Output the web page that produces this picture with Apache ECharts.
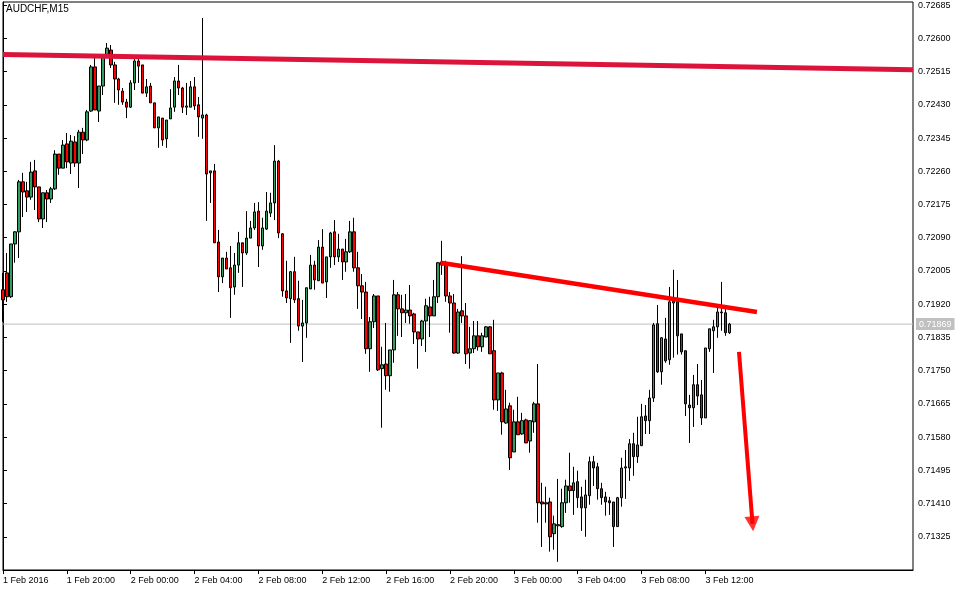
<!DOCTYPE html>
<html><head><meta charset="utf-8">
<script src="https://cdn.jsdelivr.net/npm/echarts@6/dist/echarts.min.js"></script>
<style>html,body{margin:0;padding:0;background:#fff;}#c{width:967px;height:592px;}</style>
</head><body><div id="c"></div>
<script>
const symbolTitle = 'AUDCHF,M15';
// OHLC values of the M15 bars (1 Feb 2016 16:00 onwards)
const openP = [0.71957,0.72000,0.71939,0.72074,0.72105,0.72233,0.72210,0.72194,0.72261,0.72220,
0.72138,0.72205,0.72189,0.72215,0.72304,0.72268,0.72330,0.72281,0.72335,0.72281,
0.72360,0.72340,0.72414,0.72527,0.72414,0.72478,0.72552,0.72570,0.72532,0.72496,
0.72465,0.72437,0.72424,0.72486,0.72542,0.72532,0.72460,0.72478,0.72435,0.72371,
0.72396,0.72343,0.72394,0.72424,0.72491,0.72473,0.72424,0.72424,0.72476,0.72430,
0.72396,0.72404,0.72256,0.72261,0.72079,0.71990,0.72038,0.72013,0.71964,0.72020,
0.72077,0.72051,0.72089,0.72115,0.72158,0.72069,0.72112,0.72153,0.72179,0.72286,
0.72100,0.71954,0.71934,0.72003,0.71934,0.71864,0.71872,0.71959,0.72020,0.71980,
0.72066,0.71977,0.72041,0.72105,0.72041,0.72061,0.72028,0.72054,0.72105,0.72013,
0.71967,0.71951,0.71806,0.71875,0.71941,0.71755,0.71767,0.71737,0.71803,0.71944,
0.71908,0.71898,0.71905,0.71895,0.71849,0.71831,0.71877,0.71913,0.71890,0.71939,
0.72020,0.72026,0.71941,0.71923,0.71795,0.71903,0.71890,0.71795,0.71806,0.71839,
0.71811,0.71836,0.71862,0.71801,0.71675,0.71744,0.71616,0.71660,0.71542,0.71619,
0.71588,0.71624,0.71570,0.71619,0.71665,0.71414,0.71412,0.71414,0.71333,0.71353,
0.71351,0.71412,0.71455,0.71443,0.71466,0.71427,0.71399,0.71430,0.71517,0.71504,
0.71448,0.71427,0.71417,0.71414,0.71351,0.71425,0.71501,0.71501,0.71563,0.71530,
0.71558,0.71634,0.71622,0.71680,0.71870,0.71747,0.71831,0.71778,0.71928,0.71926,
0.71844,0.71801,0.71662,0.71655,0.71714,0.71688,0.71629,0.71806,0.71852,0.71862,
0.71900,0.71898,0.71847];
const highP = [0.72000,0.72051,0.72074,0.72107,0.72238,0.72256,0.72233,0.72284,0.72289,0.72220,
0.72205,0.72212,0.72220,0.72314,0.72304,0.72340,0.72358,0.72353,0.72350,0.72366,
0.72371,0.72417,0.72532,0.72550,0.72478,0.72557,0.72588,0.72583,0.72540,0.72499,
0.72473,0.72445,0.72493,0.72547,0.72547,0.72532,0.72496,0.72486,0.72435,0.72399,
0.72396,0.72391,0.72470,0.72501,0.72532,0.72476,0.72486,0.72491,0.72501,0.72450,
0.72652,0.72407,0.72261,0.72279,0.72110,0.72038,0.72054,0.72069,0.72051,0.72105,
0.72077,0.72158,0.72133,0.72179,0.72181,0.72141,0.72207,0.72205,0.72327,0.72289,
0.72102,0.72031,0.72005,0.72041,0.71980,0.71931,0.71962,0.72046,0.72031,0.72084,
0.72112,0.72041,0.72105,0.72135,0.72100,0.72061,0.72087,0.72133,0.72141,0.72054,
0.71997,0.71977,0.71887,0.71946,0.71941,0.71811,0.71872,0.71803,0.71982,0.71951,
0.71944,0.71946,0.71969,0.71898,0.71849,0.71880,0.71934,0.71939,0.71982,0.72028,
0.72082,0.72031,0.71951,0.71946,0.71908,0.72043,0.71923,0.71862,0.71877,0.71877,
0.71847,0.71864,0.71864,0.71880,0.71744,0.71747,0.71701,0.71668,0.71650,0.71683,
0.71642,0.71627,0.71622,0.71670,0.71767,0.71463,0.71453,0.71425,0.71379,0.71473,
0.71448,0.71471,0.71540,0.71504,0.71494,0.71453,0.71471,0.71530,0.71532,0.71514,
0.71463,0.71440,0.71427,0.71414,0.71427,0.71527,0.71547,0.71575,0.71591,0.71632,
0.71665,0.71662,0.71701,0.71872,0.71918,0.71836,0.71885,0.71964,0.72008,0.71982,
0.71844,0.71801,0.71688,0.71739,0.71767,0.71726,0.71808,0.71857,0.71880,0.71918,
0.71977,0.71910,0.71872];
const lowP = [0.71875,0.71926,0.71936,0.72026,0.72038,0.72143,0.72156,0.72187,0.72161,0.72130,
0.72115,0.72130,0.72179,0.72212,0.72251,0.72268,0.72268,0.72253,0.72271,0.72217,
0.72304,0.72337,0.72412,0.72417,0.72386,0.72455,0.72550,0.72524,0.72435,0.72430,
0.72430,0.72396,0.72422,0.72468,0.72486,0.72460,0.72450,0.72435,0.72371,0.72320,
0.72325,0.72320,0.72394,0.72412,0.72455,0.72409,0.72404,0.72424,0.72417,0.72348,
0.72343,0.72133,0.72179,0.72077,0.71951,0.71974,0.72010,0.71885,0.71944,0.72000,
0.71964,0.72046,0.72089,0.72110,0.72015,0.72059,0.72110,0.72143,0.72135,0.72089,
0.71939,0.71923,0.71821,0.71923,0.71852,0.71772,0.71834,0.71959,0.71957,0.71980,
0.71974,0.71936,0.72013,0.72020,0.72028,0.71982,0.72003,0.72051,0.72003,0.71908,
0.71882,0.71793,0.71747,0.71859,0.71749,0.71604,0.71701,0.71696,0.71770,0.71839,
0.71836,0.71872,0.71870,0.71818,0.71755,0.71813,0.71798,0.71836,0.71890,0.71923,
0.71995,0.71926,0.71847,0.71793,0.71793,0.71872,0.71767,0.71755,0.71795,0.71801,
0.71798,0.71836,0.71793,0.71650,0.71647,0.71586,0.71614,0.71496,0.71542,0.71586,
0.71586,0.71565,0.71540,0.71591,0.71361,0.71299,0.71361,0.71287,0.71292,0.71261,
0.71348,0.71386,0.71412,0.71381,0.71399,0.71340,0.71325,0.71407,0.71455,0.71420,
0.71407,0.71379,0.71381,0.71299,0.71351,0.71402,0.71422,0.71468,0.71481,0.71514,
0.71558,0.71588,0.71588,0.71670,0.71744,0.71714,0.71770,0.71765,0.71783,0.71791,
0.71791,0.71634,0.71565,0.71606,0.71662,0.71611,0.71629,0.71798,0.71744,0.71834,
0.71852,0.71839,0.71844];
const closeP = [0.71931,0.71939,0.72074,0.72105,0.72233,0.72207,0.72194,0.72258,0.72220,0.72138,
0.72205,0.72189,0.72215,0.72304,0.72268,0.72327,0.72284,0.72337,0.72281,0.72360,
0.72340,0.72412,0.72527,0.72417,0.72478,0.72552,0.72575,0.72532,0.72496,0.72468,
0.72437,0.72424,0.72486,0.72542,0.72529,0.72460,0.72476,0.72435,0.72371,0.72399,
0.72340,0.72391,0.72422,0.72491,0.72473,0.72424,0.72427,0.72476,0.72427,0.72399,
0.72404,0.72253,0.72261,0.72077,0.71990,0.72038,0.72010,0.71962,0.72020,0.72077,
0.72051,0.72089,0.72115,0.72156,0.72069,0.72115,0.72158,0.72179,0.72286,0.72102,
0.71954,0.71936,0.72003,0.71931,0.71864,0.71872,0.71962,0.72020,0.71982,0.72066,
0.71974,0.72041,0.72102,0.72041,0.72061,0.72028,0.72054,0.72105,0.72013,0.71967,
0.71951,0.71806,0.71875,0.71941,0.71752,0.71765,0.71737,0.71803,0.71944,0.71908,
0.71898,0.71905,0.71890,0.71849,0.71831,0.71877,0.71916,0.71890,0.71939,0.72026,
0.72028,0.71941,0.71923,0.71795,0.71900,0.71890,0.71793,0.71806,0.71839,0.71811,
0.71839,0.71862,0.71793,0.71675,0.71744,0.71619,0.71652,0.71527,0.71619,0.71586,
0.71622,0.71565,0.71622,0.71665,0.71412,0.71409,0.71409,0.71325,0.71358,0.71356,
0.71412,0.71455,0.71443,0.71463,0.71425,0.71399,0.71432,0.71517,0.71501,0.71448,
0.71425,0.71414,0.71412,0.71351,0.71425,0.71501,0.71504,0.71563,0.71530,0.71560,
0.71632,0.71622,0.71680,0.71867,0.71747,0.71834,0.71775,0.71926,0.71923,0.71839,
0.71798,0.71665,0.71655,0.71714,0.71685,0.71629,0.71808,0.71857,0.71862,0.71900,
0.71898,0.71847,0.71869];
const xTickLabels = ['1 Feb 2016','1 Feb 20:00','2 Feb 00:00','2 Feb 04:00','2 Feb 08:00','2 Feb 12:00',
  '2 Feb 16:00','2 Feb 20:00','3 Feb 00:00','3 Feb 04:00','3 Feb 08:00','3 Feb 12:00'];
const yTickValues = [0.71325,0.71410,0.71495,0.71580,0.71665,0.71750,0.71835,0.71920,0.72005,
  0.72090,0.72175,0.72260,0.72345,0.72430,0.72515,0.72600,0.72685];
// drawn objects, in (bar position, price)
const resistanceLine = [[0, 0.72559], [228, 0.72520]];
const trendLine = [[109.6, 0.72026], [188.9, 0.71900]];
const arrowShaft = [[184.4, 0.71798], [187.8, 0.71358]];
const arrowHead = [[187.8, 0.71358]];
const lastPrice = 0.71869;
const totalSlots = 229; // bars + empty chart shift on the right

const FONT = "'Liberation Sans', Arial, sans-serif";
const pad = n => String(n).padStart(2, '0');
const cats = [];
const t0 = Date.UTC(2016, 1, 1, 16, 0);
for (let i = 0; i < totalSlots; i++) {
  const d = new Date(t0 + i * 15 * 60000);
  cats.push(d.getUTCFullYear() + '.' + pad(d.getUTCMonth() + 1) + '.' + pad(d.getUTCDate()) + ' ' + pad(d.getUTCHours()) + ':' + pad(d.getUTCMinutes()));
}
const isTick = (i) => i % 16 === 0 && i / 16 < xTickLabels.length;
const candles = openP.map((o, i) => [o, closeP[i], lowP[i], highP[i]]);
const priceLine = [[0, lastPrice], [totalSlots - 1, lastPrice]];

const chart = echarts.init(document.getElementById('c'), null, {renderer: 'canvas'});
chart.setOption({
  animation: false,
  backgroundColor: '#fff',
  title: {text: symbolTitle, left: 6, top: 4, padding: 0,
    textStyle: {fontSize: 10, fontWeight: 'normal', color: '#000', fontFamily: FONT}},
  grid: {left: 2, top: 2, width: 911, height: 568, show: true, borderColor: '#000', borderWidth: 1, backgroundColor: '#fff'},
  xAxis: [{
    type: 'category', data: cats, boundaryGap: false,
    axisLine: {show: true, lineStyle: {color: '#000', width: 1}},
    axisTick: {show: true, length: 4, interval: (i) => isTick(i), lineStyle: {color: '#000'}},
    axisLabel: {interval: (i) => isTick(i), formatter: (v, i) => isTick(i) ? xTickLabels[i / 16] : '',
      align: 'left', margin: 6, fontSize: 9, color: '#000', fontFamily: FONT},
    splitLine: {show: false}
  }, {
    type: 'value', min: 0, max: totalSlots - 1, show: false
  }],
  yAxis: {
    type: 'value', position: 'right', min: 0.71240, max: 0.72693, scale: true,
    axisLine: {show: true, lineStyle: {color: '#000'}},
    axisTick: {show: true, length: 4, customValues: yTickValues, lineStyle: {color: '#000'}},
    axisLabel: {customValues: yTickValues, formatter: v => v.toFixed(5), margin: 5, fontSize: 9, color: '#000', fontFamily: FONT, hideOverlap: false},
    splitLine: {show: false}
  },
  series: [{
    type: 'line', xAxisIndex: 1, yAxisIndex: 0, data: priceLine, symbol: 'none', silent: true,
    lineStyle: {color: '#C0C0C0', width: 1}, z: 1,
    endLabel: {show: true, formatter: lastPrice.toFixed(5), backgroundColor: '#C0C0C0', color: '#fff',
      padding: [2, 3, 1, 3], fontSize: 9, distance: 3, fontFamily: FONT}
  }, {
    type: 'candlestick', xAxisIndex: 0, yAxisIndex: 0, barWidth: 3, data: candles, silent: true,
    itemStyle: {color: '#2F9E5F', color0: '#FF0000', borderColor: '#000', borderColor0: '#000', borderColorDoji: '#000', borderWidth: 1},
    z: 2
  }, {
    type: 'line', xAxisIndex: 1, yAxisIndex: 0, data: resistanceLine, symbol: 'none', silent: true,
    lineStyle: {color: '#DC143C', width: 5}, z: 5
  }, {
    type: 'line', xAxisIndex: 1, yAxisIndex: 0, data: trendLine, symbol: 'none', silent: true,
    lineStyle: {color: '#FF0000', width: 4.5}, z: 5
  }, {
    type: 'line', xAxisIndex: 1, yAxisIndex: 0, data: arrowShaft, symbol: 'none', silent: true,
    lineStyle: {color: '#FF0000', width: 4}, z: 5
  }, {
    type: 'scatter', xAxisIndex: 1, yAxisIndex: 0, data: arrowHead, symbol: 'triangle', symbolSize: [15, 15],
    symbolRotate: 184.5, silent: true, itemStyle: {color: '#FF0000'}, z: 6
  }]
});
</script>
</body></html>
